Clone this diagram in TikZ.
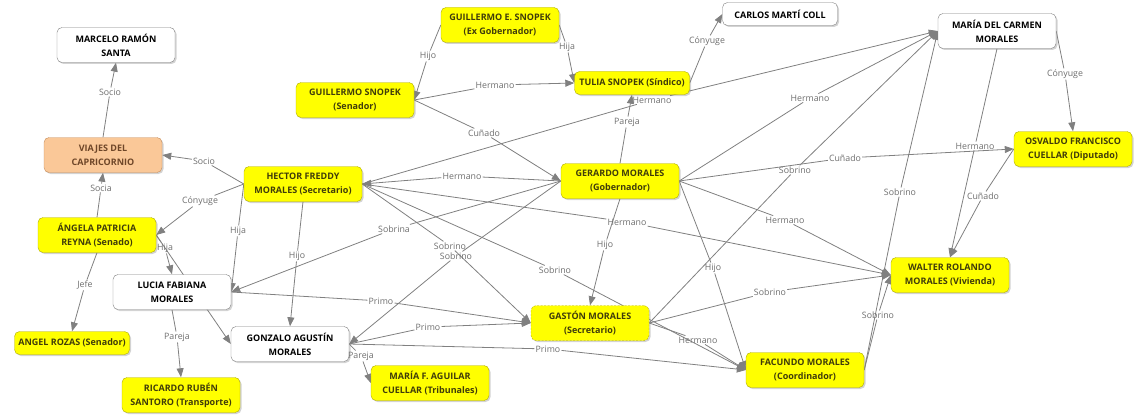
\documentclass[tikz,border=0pt]{standalone}
\usepackage{fontspec}
\setmainfont{Open Sans}
\usepackage{tikz}
\usetikzlibrary{arrows.meta}
\usetikzlibrary{shadows}
\usetikzlibrary{backgrounds}
\definecolor{boxyellow}{RGB}{255,255,0}
\definecolor{yellowborder}{RGB}{176,172,0}
\definecolor{yellowtext}{RGB}{64,60,10}
\definecolor{boxorange}{RGB}{250,200,152}
\definecolor{orangeborder}{RGB}{196,140,92}
\definecolor{orangetext}{RGB}{110,70,40}
\definecolor{linegray}{RGB}{128,128,128}
\definecolor{labelgray}{RGB}{110,110,110}

\begin{document}
\begin{tikzpicture}[
    x=1pt, y=-1pt,
    concept/.style={rectangle, rounded corners=5pt, minimum width=118pt, minimum height=35pt,
      inner sep=2pt, align=center, font=\fontsize{9}{14}\selectfont\bfseries,
      drop shadow={shadow xshift=1.5pt, shadow yshift=-1.5pt, opacity=0.35}},
    yellow box/.style={concept, draw=yellowborder, fill=boxyellow, text=yellowtext},
    white box/.style={concept, draw=linegray, fill=white, text=black},
    orange box/.style={concept, draw=orangeborder, fill=boxorange, text=orangetext},
    one line/.style={minimum height=23pt, minimum width=115pt},
    link label/.style={inner sep=1pt, text=labelgray, font=\fontsize{8.8}{10}\selectfont},
    link arrow/.style={draw=linegray, line width=0.8pt, -{Triangle[length=9pt,width=7pt]}}
    ]
    \useasboundingbox (0,0) rectangle (1140,420);

    % people and companies
    \node[white box] (marcelo) at (116,45) {MARCELO RAMÓN\\SANTA};
    \node[orange box] (viajes) at (103,155) {VIAJES DEL\\CAPRICORNIO};
    \node[yellow box] (hector) at (303,184) {HECTOR FREDDY\\MORALES (Secretario)};
    \node[yellow box] (angela) at (97,235) {ÁNGELA PATRICIA\\REYNA (Senado)};
    \node[white box] (lucia) at (172,292) {LUCIA FABIANA\\MORALES};
    \node[yellow box, one line] (rozas) at (72,343) {ANGEL ROZAS (Senador)};
    \node[yellow box] (ricardo) at (181,395) {RICARDO RUBÉN\\SANTORO (Transporte)};
    \node[white box] (gonzalo) at (290,344) {GONZALO AGUSTÍN\\MORALES};
    \node[yellow box] (mariaf) at (430,383) {MARÍA F. AGUILAR\\CUELLAR (Tribunales)};
    \node[yellow box] (gsnopek) at (355,100) {GUILLERMO SNOPEK\\(Senador)};
    \node[yellow box] (gesnopek) at (500,25) {GUILLERMO E. SNOPEK\\(Ex Gobernador)};
    \node[yellow box, one line] (tulia) at (632,83) {TULIA SNOPEK (Síndico)};
    \node[white box, one line] (carlos) at (780,14) {CARLOS MARTÍ COLL};
    \node[yellow box] (gerardo) at (620,181) {GERARDO MORALES\\(Gobernador)};
    \node[white box] (mcarmen) at (997,31) {MARÍA DEL CARMEN\\MORALES};
    \node[yellow box] (osvaldo) at (1073,149) {OSVALDO FRANCISCO\\CUELLAR (Diputado)};
    \node[yellow box] (walter) at (950,275) {WALTER ROLANDO\\MORALES (Vivienda)};
    \node[yellow box, dash pattern=on 2pt off 1.5pt] (gaston) at (590,323) {GASTÓN MORALES\\(Secretario)};
    \node[yellow box] (facundo) at (805,370) {FACUNDO MORALES\\(Coordinador)};

    % linking words
    \node[link label] (socioA) at (110,92) {Socio};
    \node[link label] (socioB) at (204,161) {Socio};
    \node[link label] (socia) at (101,188) {Socia};
    \node[link label] (conyugeA) at (200,201) {Cónyuge};
    \node[link label] (hijaA) at (165,248) {Hija};
    \node[link label] (jefe) at (85,285) {Jefe};
    \node[link label] (hijaB) at (238,231) {Hija};
    \node[link label] (hijoA) at (297,256) {Hijo};
    \node[link label] (parejaA) at (177,337) {Pareja};
    \node[link label] (parejaB) at (361,356) {Pareja};
    \node[link label] (primoA) at (381,301) {Primo};
    \node[link label] (primoB) at (428,327) {Primo};
    \node[link label] (primoC) at (548,349) {Primo};
    \node[link label] (sobrina) at (394,229) {Sobrina};
    \node[link label] (sobrinoA) at (450,246) {Sobrino};
    \node[link label] (sobrinoB) at (456,256) {Sobrino};
    \node[link label] (sobrinoC) at (555,270) {Sobrino};
    \node[link label] (hermanoA) at (462,176) {Hermano};
    \node[link label] (cunadoA) at (484,133) {Cuñado};
    \node[link label] (hermanoB) at (495,85) {Hermano};
    \node[link label] (hijoB) at (428,56) {Hijo};
    \node[link label] (hijaC) at (567,47) {Hija};
    \node[link label] (conyugeB) at (707,41) {Cónyuge};
    \node[link label] (parejaC) at (627,122) {Pareja};
    \node[link label] (hermanoC) at (652,100) {Hermano};
    \node[link label] (hermanoD) at (810,98) {Hermano};
    \node[link label] (sobrinoD) at (795,170) {Sobrino};
    \node[link label] (cunadoB) at (845,158) {Cuñado};
    \node[link label] (hermanoE) at (785,220) {Hermano};
    \node[link label] (hermanoF) at (627,222) {Hermano};
    \node[link label] (hijoC) at (605,245) {Hijo};
    \node[link label] (hijoD) at (713,268) {Hijo};
    \node[link label] (sobrinoE) at (770,292) {Sobrino};
    \node[link label] (hermanoG) at (698,340) {Hermano};
    \node[link label] (sobrinoF) at (900,192) {Sobrino};
    \node[link label] (sobrinoG) at (878,315) {Sobrino};
    \node[link label] (conyugeC) at (1065,74) {Cónyuge};
    \node[link label] (hermanoH) at (975,146) {Hermano};
    \node[link label] (cunadoC) at (983,196) {Cuñado};

    % connectors
    \begin{pgfonlayer}{background}
    \draw[link arrow] (viajes.north) -- (socioA) -- (marcelo.south);
    \draw[link arrow] (hector.west) -- (socioB) -- (viajes.east);
    \draw[link arrow] (angela.north) -- (socia) -- (viajes.south);
    \draw[link arrow] (hector.west) -- (conyugeA) -- (angela.east);
    \draw[link arrow] (angela.east) -- (hijaA) -- (lucia.north);
    \draw[link arrow] (angela.east) -- (gonzalo.west);
    \draw[link arrow] (angela.south) -- (jefe) -- (rozas.north);
    \draw[link arrow] (hector.west) -- (hijaB) -- (lucia.east);
    \draw[link arrow] (hector.south) -- (hijoA) -- (gonzalo.north);
    \draw[link arrow] (lucia.south) -- (parejaA) -- (ricardo.north);
    \draw[link arrow] (gonzalo.east) -- (parejaB) -- (mariaf.west);
    \draw[link arrow] (lucia.east) -- (primoA) -- (gaston.west);
    \draw[link arrow] (gonzalo.east) -- (primoB) -- (gaston.west);
    \draw[link arrow] (gonzalo.east) -- (primoC) -- (facundo.west);
    \draw[link arrow] (gerardo.west) -- (sobrina) -- (lucia.east);
    \draw[link arrow] (hector.east) -- (sobrinoA) -- (gaston.west);
    \draw[link arrow] (gerardo.west) -- (sobrinoB) -- (gonzalo.east);
    \draw[link arrow] (hector.east) -- (sobrinoC) -- (facundo.west);
    \draw[link arrow] (gerardo.west) -- (hermanoA) -- (hector.east);
    \draw[link arrow] (gsnopek.east) -- (cunadoA) -- (gerardo.west);
    \draw[link arrow] (gsnopek.east) -- (hermanoB) -- (tulia.west);
    \draw[link arrow] (gesnopek.west) -- (hijoB) -- (gsnopek.east);
    \draw[link arrow] (gesnopek.east) -- (hijaC) -- (tulia.west);
    \draw[link arrow] (tulia.east) -- (conyugeB) -- (carlos.west);
    \draw[link arrow] (gerardo.north) -- (parejaC) -- (tulia.south);
    \draw[link arrow] (hector.east) -- (hermanoC) -- (mcarmen.west);
    \draw[link arrow] (gerardo.east) -- (hermanoD) -- (mcarmen.west);
    \draw[link arrow] (gaston.east) -- (sobrinoD) -- (mcarmen.west);
    \draw[link arrow] (gerardo.east) -- (cunadoB) -- (osvaldo.west);
    \draw[link arrow] (gerardo.east) -- (hermanoE) -- (walter.west);
    \draw[link arrow] (hector.east) -- (hermanoF) -- (walter.west);
    \draw[link arrow] (gerardo.south) -- (hijoC) -- (gaston.north);
    \draw[link arrow] (gerardo.east) -- (hijoD) -- (facundo.west);
    \draw[link arrow] (gaston.east) -- (sobrinoE) -- (walter.west);
    \draw[link arrow] (gaston.east) -- (hermanoG) -- (facundo.west);
    \draw[link arrow] (facundo.east) -- (sobrinoF) -- (mcarmen.west);
    \draw[link arrow] (facundo.east) -- (sobrinoG) -- (walter.west);
    \draw[link arrow] (mcarmen.east) -- (conyugeC) -- (osvaldo.north);
    \draw[link arrow] (mcarmen.south) -- (hermanoH) -- (walter.north);
    \draw[link arrow] (osvaldo.west) -- (cunadoC) -- (walter.north);
    \end{pgfonlayer}

\end{tikzpicture}
\end{document}
